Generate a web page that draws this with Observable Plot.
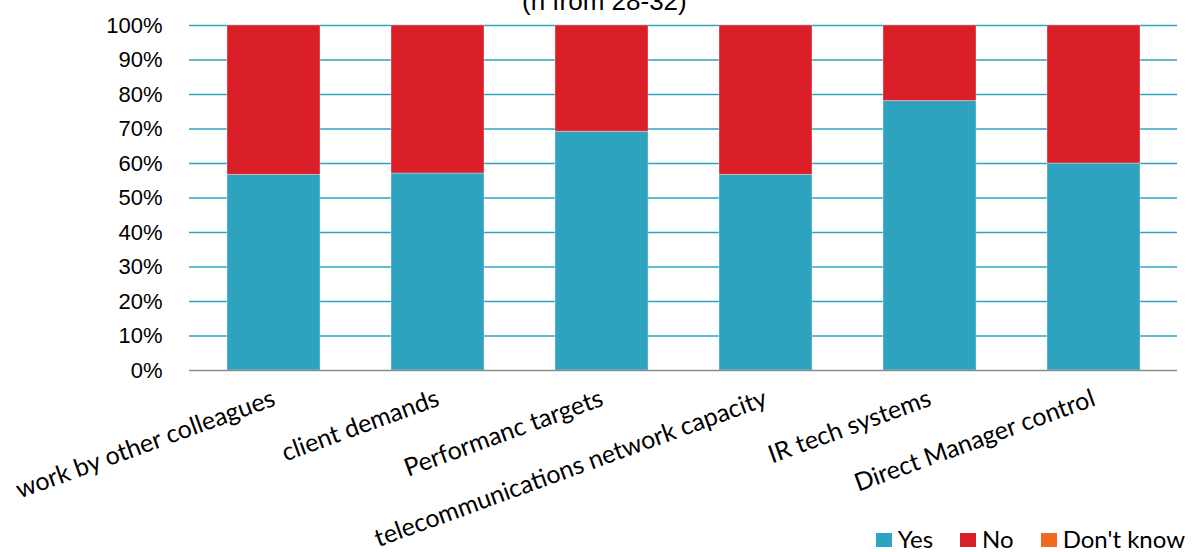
<!DOCTYPE html>
<html>
<head>
<meta charset="utf-8">
<script src="https://cdn.jsdelivr.net/npm/d3@7"></script>
<script src="https://cdn.jsdelivr.net/npm/@observablehq/plot@0.6"></script>
<style>
  html, body { margin: 0; padding: 0; background: #fff; overflow: hidden; }
  #wrap { position: relative; width: 1192px; height: 552px; overflow: hidden; }
  #subtitle { position: absolute; left: 522px; top: -12px; font: 26px "Liberation Sans", Arial, sans-serif; line-height: 26px; color: #000; white-space: nowrap; }
  #legend { position: absolute; right: 7px; top: 526px; display: flex; align-items: center; font: 24px Lato, "Open Sans", sans-serif; line-height: 26px; color: #000; }
  #legend .item { display: flex; align-items: center; margin-left: 27px; }
  #legend .sw { width: 16px; height: 14px; margin-right: 6px; margin-top: 2px; }
</style>
</head>
<body>
<div id="wrap">
  <div id="chart"></div>
  <div id="subtitle"></div>
  <div id="legend"></div>
</div>
<script>
const subtitle = "(n from 28-32)";
const categories = ["work by other colleagues", "client demands", "Performanc targets", "telecommunications network capacity", "IR tech systems", "Direct Manager control"];
const series = ["Yes", "No", "Don't know"];
const colors = ["#2ea3c0", "#da1f28", "#ee6a1f"];
const yesValues = [56.7, 57.1, 69.2, 56.7, 78.1, 60.0];
const noValues = [43.3, 42.9, 30.8, 43.3, 21.9, 40.0];
const dontKnowValues = [0, 0, 0, 0, 0, 0];
const yTicks = [0, 10, 20, 30, 40, 50, 60, 70, 80, 90, 100];

const seriesValues = [yesValues, noValues, dontKnowValues];
const data = [];
series.forEach((s, si) => categories.forEach((c, ci) => data.push({category: c, answer: s, value: seriesValues[si][ci]})));

document.getElementById("subtitle").textContent = subtitle;

const chart = Plot.plot({
  width: 1192,
  height: 522,
  marginTop: 25,
  marginBottom: 152,
  marginLeft: 189,
  marginRight: 15,
  style: {fontFamily: "Lato, sans-serif", background: "#fff", overflow: "visible"},
  x: {domain: categories, paddingInner: 0.435, paddingOuter: 0.2175, label: null},
  y: {domain: [0, 100], label: null},
  color: {domain: series, range: colors},
  marks: [
    Plot.ruleY(yTicks.filter(d => d > 0), {stroke: "#2ea3c0", strokeWidth: 1.6}),
    Plot.barY(data, Plot.stackY({order: series}, {x: "category", y: "value", fill: "answer", stroke: "#ffffff", strokeOpacity: 0.35, strokeWidth: 1})),
    Plot.ruleY([0], {stroke: "#8c8c8c", strokeWidth: 1.6}),
    Plot.axisY({ticks: yTicks, tickSize: 0, tickPadding: 27, tickFormat: d => d + "%", fontSize: 22, fontFamily: "Liberation Sans, Arial, sans-serif", fill: "#000", label: null}),
    Plot.axisX({tickSize: 0, tickRotate: -20, tickPadding: 27, fontSize: 25, fontFamily: "Lato, sans-serif", fill: "#000", label: null})
  ]
});
document.getElementById("chart").appendChild(chart);

const legend = document.getElementById("legend");
series.forEach((s, i) => {
  const item = document.createElement("div");
  item.className = "item";
  const sw = document.createElement("span");
  sw.className = "sw";
  sw.style.background = colors[i];
  const t = document.createElement("span");
  t.textContent = s;
  item.appendChild(sw);
  item.appendChild(t);
  legend.appendChild(item);
});
</script>
</body>
</html>
